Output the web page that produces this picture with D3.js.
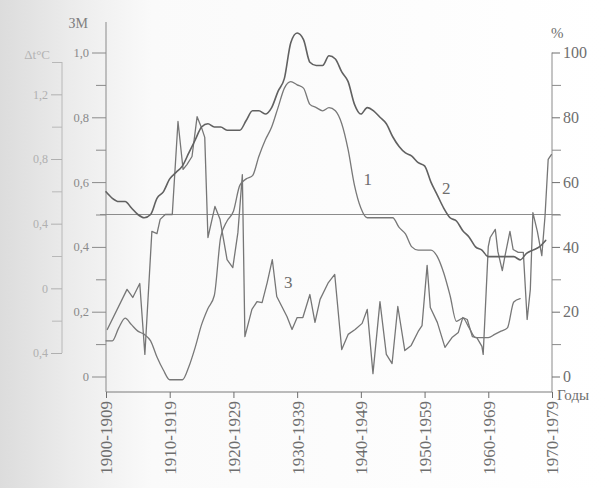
<!DOCTYPE html>
<html>
<head>
<meta charset="utf-8">
<script src="https://cdn.jsdelivr.net/npm/d3@7"></script>
<style>
  html, body { margin: 0; padding: 0; background: #fff; }
  svg { display: block; }
  text { font-family: "Liberation Serif", "Times New Roman", serif; }
</style>
</head>
<body>
<svg id="chart" width="607" height="488"></svg>
<script>
// Years of the running records (start year of each point)
const years = d3.range(1900, 1970);

// Curve 2 — index on the ЗМ scale, 1900–1969
const series2 = [
  0.57, 0.55, 0.54, 0.54, 0.52, 0.50, 0.49, 0.50, 0.55, 0.57,
  0.61, 0.63, 0.65, 0.69, 0.73, 0.77, 0.78, 0.77, 0.77, 0.76,
  0.76, 0.76, 0.79, 0.82, 0.82, 0.81, 0.83, 0.88, 0.92, 1.03,
  1.06, 1.04, 0.97, 0.96, 0.96, 0.99, 0.98, 0.94, 0.91, 0.84,
  0.81, 0.83, 0.82, 0.80, 0.78, 0.74, 0.71, 0.69, 0.68, 0.66,
  0.65, 0.60, 0.56, 0.52, 0.49, 0.48, 0.45, 0.43, 0.40, 0.39,
  0.37, 0.37, 0.37, 0.37, 0.37, 0.36, 0.38, 0.39, 0.40, 0.42
];

// Curve 1 — index on the ЗМ scale, 1900–1965
const series1 = [
  0.11, 0.11, 0.15, 0.18, 0.16, 0.14, 0.13, 0.11, 0.06, 0.02,
  -0.01, -0.01, -0.01, 0.03, 0.09, 0.16, 0.21, 0.25, 0.43, 0.48,
  0.51, 0.59, 0.61, 0.62, 0.68, 0.73, 0.77, 0.83, 0.89, 0.91,
  0.90, 0.89, 0.84, 0.83, 0.82, 0.83, 0.82, 0.78, 0.70, 0.59,
  0.52, 0.49, 0.49, 0.49, 0.49, 0.49, 0.46, 0.44, 0.40, 0.39,
  0.39, 0.39, 0.37, 0.32, 0.25, 0.17, 0.18, 0.15, 0.12, 0.12,
  0.12, 0.13, 0.14, 0.15, 0.23, 0.24
];

// Curve 3 — share in percent, irregular observation times
const years3 = [
  1900.2, 1903.3, 1904.2, 1905.3, 1906.1, 1907.2, 1908.0, 1908.5, 1909.3, 1910.4,
  1911.3, 1912.1, 1912.7, 1913.5, 1914.3, 1915.1, 1915.5, 1916.0, 1917.1, 1917.9,
  1919.0, 1919.9, 1920.7, 1921.4, 1921.8, 1922.9, 1923.7, 1924.5, 1925.3, 1926.1,
  1926.8, 1927.6, 1928.4, 1929.2, 1930.0, 1930.9, 1932.0, 1932.8, 1933.6, 1934.9,
  1935.9, 1937.0, 1938.0, 1939.1, 1940.2, 1941.0, 1941.9, 1943.0, 1944.0, 1944.9,
  1945.8, 1946.9, 1947.9, 1949.0, 1949.6, 1950.4, 1950.9, 1952.0, 1953.2, 1954.3,
  1955.3, 1956.0, 1956.7, 1957.5, 1958.2, 1959.0, 1959.2, 1960.0, 1960.3, 1961.1,
  1961.5, 1962.2, 1962.6, 1963.4, 1963.9, 1964.7, 1965.5, 1966.1, 1966.6, 1967.0,
  1967.7, 1968.4, 1968.9, 1969.4, 1969.9
];
const series3 = [
  14.5, 26.9, 24.4, 28.7, 6.8, 44.8, 44.1, 48.5, 50.0, 50.0,
  78.7, 63.9, 65.4, 67.9, 80.2, 76.2, 73.8, 42.9, 52.5, 48.5,
  36.1, 33.6, 44.4, 62.3, 12.3, 20.7, 23.1, 22.8, 29.0, 36.1,
  24.7, 21.6, 18.5, 14.5, 18.2, 18.2, 25.3, 16.7, 23.8, 29.0,
  31.5, 8.3, 13.0, 14.5, 16.4, 20.7, 0.9, 23.1, 6.8, 4.0,
  21.6, 8.0, 9.6, 13.9, 15.7, 34.3, 21.3, 16.7, 9.0, 12.0,
  13.6, 18.2, 17.6, 12.3, 12.0, 9.3, 6.8, 40.1, 42.9, 45.4,
  38.6, 32.7, 37.0, 44.8, 39.2, 38.3, 38.3, 17.6, 26.9, 50.6,
  44.8, 37.3, 49.4, 67.0, 68.5
];

// Axis ticks and labels
const decadeStarts = [1900, 1910, 1920, 1930, 1940, 1950, 1960, 1970];
const decadeLabels = ["1900-1909", "1910-1919", "1920-1929", "1930-1939",
                      "1940-1949", "1950-1959", "1960-1969", "1970-1979"];
const leftTicks = [0, 0.2, 0.4, 0.6, 0.8, 1.0];
const leftMinor = [0.1, 0.3, 0.5, 0.7, 0.9];
const rightTicks = [0, 20, 40, 60, 80, 100];
const rightMinor = [10, 30, 50, 70, 90];
const tempTicks = [-0.4, 0, 0.4, 0.8, 1.2];
const tempTickLabels = ["0,4", "0", "0,4", "0,8", "1,2"];
const tempMinor = [-0.2, 0.2, 0.6, 1.0, 1.4];
const referenceLevel = 50;

// Curve numbers and where they sit (year, ЗМ value)
const curveNames = ["1", "2", "3"];
const curveLabelAt = [[1941.1, 0.608], [1953.4, 0.583], [1928.6, 0.29]];

const svg = d3.select("#chart");

// paper tone, greyer toward the left edge
const defs = svg.append("defs");
const grad = defs.append("linearGradient").attr("id", "paper")
  .attr("x1", "0").attr("x2", "1").attr("y1", "0").attr("y2", "0");
grad.append("stop").attr("offset", "0").attr("stop-color", "#dcdcdc");
grad.append("stop").attr("offset", "0.12").attr("stop-color", "#ececec");
grad.append("stop").attr("offset", "0.25").attr("stop-color", "#fafafa");
grad.append("stop").attr("offset", "1").attr("stop-color", "#ffffff");
svg.append("rect").attr("width", 607).attr("height", 488).attr("fill", "url(#paper)");

const x = d3.scaleLinear().domain([1900, 1970]).range([106, 552]);
const yL = d3.scaleLinear().domain([0, 1]).range([376.5, 52.5]);
const yR = d3.scaleLinear().domain([0, 100]).range([376.5, 52.5]);
const yT = d3.scaleLinear().domain([-0.4, 1.4]).range([353, 62]);

const ink = "#6e6e6e";
const comma = d => d === 0 ? "0" : d3.format(".1f")(d).replace(".", ",");

function styleAxis(g, color, size) {
  g.select(".domain").remove();
  g.attr("font-family", null).attr("font-size", size);
  g.selectAll("line").attr("stroke", color);
  g.selectAll("text").attr("fill", color);
}

// far-left temperature scale
svg.append("line").attr("x1", 62).attr("x2", 62)
  .attr("y1", yT(1.4)).attr("y2", yT(-0.4)).attr("stroke", "#b8b8b8");
svg.append("g").attr("transform", "translate(62,0)")
  .call(d3.axisLeft(yT).tickValues(tempTicks).tickSize(11).tickPadding(3)
    .tickFormat((d, i) => tempTickLabels[i]))
  .call(g => styleAxis(g, "#b0b0b0", 12));
svg.append("g").attr("transform", "translate(62,0)")
  .call(d3.axisLeft(yT).tickValues(tempMinor).tickSize(10).tickFormat(""))
  .call(g => styleAxis(g, "#b8b8b8", 12));
svg.append("text").attr("x", 50).attr("y", 59).attr("text-anchor", "end")
  .attr("font-size", 13).attr("fill", "#b4b4b4").text("Δt°C");

// left ЗМ scale
svg.append("line").attr("x1", 106).attr("x2", 106)
  .attr("y1", 22).attr("y2", 392).attr("stroke", "#8a8a8a");
svg.append("g").attr("transform", "translate(106,0)")
  .call(d3.axisLeft(yL).tickValues(leftTicks).tickSize(14).tickPadding(3).tickFormat(comma))
  .call(g => styleAxis(g, "#8a8a8a", 12.5));
svg.append("g").attr("transform", "translate(106,0)")
  .call(d3.axisLeft(yL).tickValues(leftMinor).tickSize(10).tickFormat(""))
  .call(g => styleAxis(g, "#8a8a8a", 12));
svg.append("text").attr("x", 88).attr("y", 28).attr("text-anchor", "end")
  .attr("font-size", 14).attr("fill", "#808080").text("ЗМ");

// right percent scale
svg.append("line").attr("x1", 552).attr("x2", 552)
  .attr("y1", yR(100)).attr("y2", 392).attr("stroke", "#8a8a8a");
svg.append("g").attr("transform", "translate(552,0)")
  .call(d3.axisRight(yR).tickValues(rightTicks).tickSize(8).tickPadding(3))
  .call(g => styleAxis(g, ink, 16));
svg.append("g").attr("transform", "translate(552,0)")
  .call(d3.axisRight(yR).tickValues(rightMinor).tickSize(9).tickFormat(""))
  .call(g => styleAxis(g, "#8a8a8a", 12));
svg.append("text").attr("x", 551).attr("y", 38)
  .attr("font-size", 15).attr("fill", ink).text("%");

// time axis with rotated decade labels
svg.append("line").attr("x1", 106).attr("x2", 552)
  .attr("y1", 392).attr("y2", 392).attr("stroke", "#7a7a7a");
svg.append("g").attr("transform", "translate(0,392)")
  .call(d3.axisBottom(x).tickValues(decadeStarts).tickSize(6)
    .tickFormat((d, i) => decadeLabels[i]))
  .call(g => styleAxis(g, ink, 17))
  .call(g => g.selectAll("text")
    .attr("transform", "rotate(-90)")
    .attr("x", -9).attr("y", 0).attr("dy", "0.35em")
    .attr("text-anchor", "end"));
svg.append("text").attr("x", 557).attr("y", 400)
  .attr("font-size", 15).attr("fill", ink).text("Годы");

// 50 % reference line
svg.append("line").attr("x1", 100).attr("x2", 560)
  .attr("y1", yR(referenceLevel)).attr("y2", yR(referenceLevel))
  .attr("stroke", "#8c8c8c").attr("stroke-width", 1);

// curves
const lineL = d3.line().x(d => x(d[0])).y(d => yL(d[1]));
const lineR = d3.line().x(d => x(d[0])).y(d => yR(d[1]));

const plot = svg.append("g").attr("fill", "none")
  .attr("stroke-linejoin", "round").attr("stroke-linecap", "round");

plot.append("path")
  .datum(years3.map((yr, i) => [yr, series3[i]]))
  .attr("d", lineR).attr("stroke", "#767676").attr("stroke-width", 1.3);

plot.append("path")
  .datum(series1.map((v, i) => [years[i], v]))
  .attr("d", lineL.curve(d3.curveMonotoneX)).attr("stroke", "#787878").attr("stroke-width", 1.3);

plot.append("path")
  .datum(series2.map((v, i) => [years[i], v]))
  .attr("d", lineL.curve(d3.curveMonotoneX)).attr("stroke", "#616161").attr("stroke-width", 1.6);

// curve numbers
svg.selectAll("text.curve-num").data(curveNames).join("text")
  .attr("class", "curve-num")
  .attr("x", (d, i) => x(curveLabelAt[i][0]))
  .attr("y", (d, i) => yL(curveLabelAt[i][1]))
  .attr("dy", "0.35em").attr("text-anchor", "middle")
  .attr("font-size", 17).attr("fill", ink)
  .text(d => d);
</script>
</body>
</html>
